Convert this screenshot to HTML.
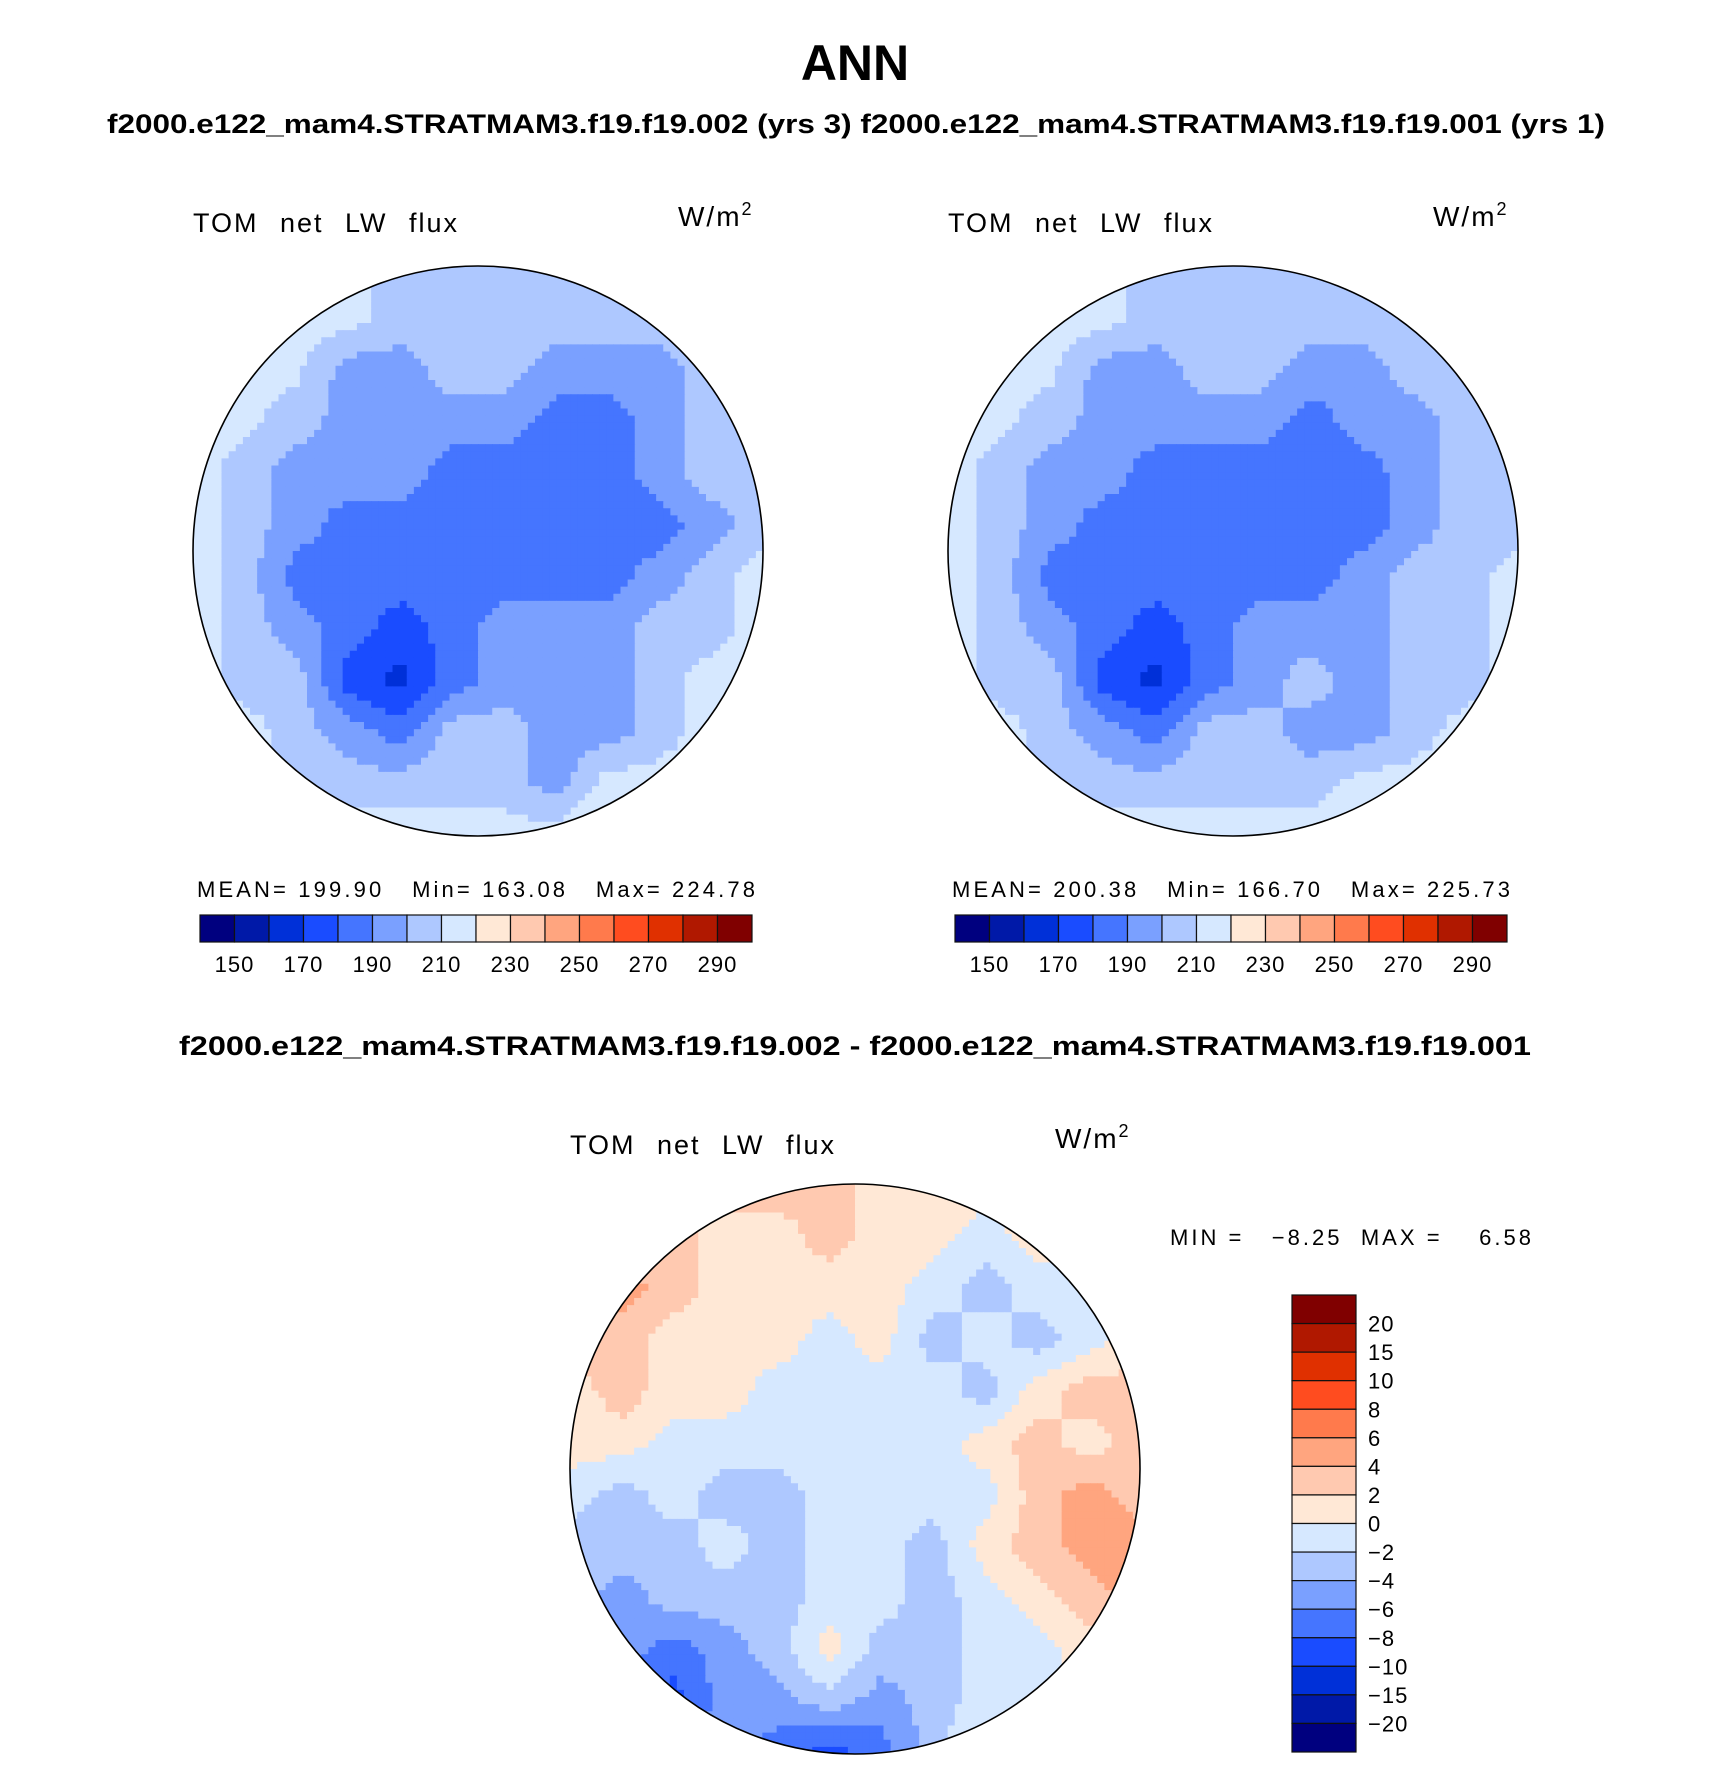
<!DOCTYPE html>
<html><head><meta charset="utf-8">
<style>
body{margin:0;background:#fff;}
svg text{font-family:"Liberation Sans",sans-serif;}
</style></head>
<body>
<svg id="fig" width="1710" height="1764" viewBox="0 0 1710 1764" xmlns="http://www.w3.org/2000/svg">
<text x="855" y="80" text-anchor="middle" font-size="50" font-weight="bold">ANN</text>
<text x="107" y="133" font-size="26.5" font-weight="bold" textLength="1498" lengthAdjust="spacingAndGlyphs">f2000.e122_mam4.STRATMAM3.f19.f19.002 (yrs 3)  f2000.e122_mam4.STRATMAM3.f19.f19.001 (yrs 1)</text>
<text x="855" y="1055" text-anchor="middle" font-size="26.5" font-weight="bold" textLength="1352" lengthAdjust="spacingAndGlyphs">f2000.e122_mam4.STRATMAM3.f19.f19.002 - f2000.e122_mam4.STRATMAM3.f19.f19.001</text>
<g id="maps"></g>
</svg>
<script>
const colors=["#00007f","#0019a8","#0030d8","#1a4cff","#4575ff","#7aa0ff","#aec8ff","#d6e8ff","#ffe8d6","#ffc9b0","#ffa57f","#ff7a4c","#ff4c1f","#e03000","#b01800","#800000"];
const levelsAbs=[150,160,170,180,190,200,210,220,230,240,250,260,270,280,290];
const tickLabelsAbs=["150","170","190","210","230","250","270","290"];
const levelsDiff=[-20,-15,-10,-8,-6,-4,-2,0,2,4,6,8,10,15,20];
const tickLabelsDiff=["20","15","10","8","6","4","2","0","\u22122","\u22124","\u22126","\u22128","\u221210","\u221215","\u221220"];
const grid1=[
[215,215,215,215,205,205,205,205,215,215,215,215],
[215,215,215,215,205,205,205,205,205,205,215,215],
[215,215,212,195,195,205,205,195,195,195,205,215],
[215,212,205,195,195,195,195,185,185,195,205,215],
[215,205,195,195,195,185,185,185,185,195,205,205],
[215,205,195,185,185,185,185,185,185,185,195,205],
[215,205,185,185,185,185,185,185,185,195,205,215],
[215,205,195,185,175,185,195,195,195,205,205,215],
[215,205,205,175,166,185,195,195,195,205,215,215],
[215,215,205,195,185,205,205,195,195,205,215,215],
[215,215,205,205,205,205,205,195,215,215,215,215],
[215,215,215,215,215,215,215,215,222,222,215,215]];
const grid2=[
[215,215,215,215,205,205,205,205,215,215,215,215],
[215,215,215,215,205,205,205,205,205,205,215,215],
[215,215,212,195,195,205,205,195,195,205,205,215],
[215,212,205,195,195,195,195,185,195,195,205,215],
[215,205,195,195,185,185,185,185,185,195,205,205],
[215,205,195,185,185,185,185,185,185,195,205,205],
[215,205,185,185,185,185,185,185,195,205,205,215],
[215,205,195,185,175,185,195,195,195,205,205,215],
[215,205,205,175,167,185,195,205,195,205,205,215],
[215,215,205,195,185,205,205,195,195,205,215,215],
[215,215,205,205,205,205,205,205,215,215,215,215],
[215,215,215,215,215,215,215,215,222,215,215,215]];
const gridDiff=[
[1,1,1,3,3,3,1,1,1,1,1,1],
[1,1,3,1,1,3,1,1,-1,1,1,1],
[3,5,3,1,1,1,1,-1,-3,-1,-1,1],
[3,3,1,1,1,-1,1,-3,-1,-3,-1,1],
[1,3,1,1,-1,-1,-1,-1,-3,1,3,3],
[1,1,-1,-1,-1,-1,-1,-1,1,3,1,3],
[-1,-3,-1,-3,-3,-1,-1,-1,-1,3,5,3],
[-3,-3,-3,-1,-3,-1,-1,-3,1,3,5,5],
[-3,-5,-3,-3,-3,-1,-1,-3,-1,1,3,5],
[-1,-5,-7,-5,-3,1,-3,-3,-1,-1,1,1],
[-3,-5,-9,-5,-5,-3,-5,-3,-1,-1,1,1],
[-3,-3,-5,-5,-7,-9,-7,-3,1,1,1,1]];
const statsLeft="MEAN= 199.90   Min= 163.08   Max= 224.78";
const statsRight="MEAN= 200.38   Min= 166.70   Max= 225.73";
const statsDiff="MIN =   \u22128.25  MAX =    6.58";

const NS="http://www.w3.org/2000/svg";
const root=document.getElementById('maps');
function mk(tag,attrs,parent){const e=document.createElementNS(NS,tag);for(const k in attrs)e.setAttribute(k,attrs[k]);(parent||root).appendChild(e);return e;}
function colorFor(v,levels){let i=0;while(i<levels.length&&v>=levels[i])i++;return colors[i];}
function sample(grid,u,v){const R=grid.length,C=grid[0].length;const x=u*(C-1),y=v*(R-1);const i0=Math.min(Math.floor(y),R-2),j0=Math.min(Math.floor(x),C-2);const fy=y-i0,fx=x-j0;
 return grid[i0][j0]*(1-fx)*(1-fy)+grid[i0][j0+1]*fx*(1-fy)+grid[i0+1][j0]*(1-fx)*fy+grid[i0+1][j0+1]*fx*fy;}
function drawMap(id,cx,cy,r,grid,levels){
 const g=mk('g',{});
 
 
 const cp=mk('clipPath',{id:id+'-clip'},g);mk('circle',{cx:cx,cy:cy,r:r},cp);
 const cells=mk('g',{'clip-path':'url(#'+id+'-clip)'},g);
 const N=80,s=2*r/N;
 for(let i=0;i<N;i++)for(let j=0;j<N;j++){
  const v=sample(grid,(j+0.5)/N,(i+0.5)/N);
  mk('rect',{x:(cx-r+j*s).toFixed(2),y:(cy-r+i*s).toFixed(2),width:(s+0.6).toFixed(2),height:(s+0.6).toFixed(2),fill:colorFor(v,levels)},cells);
 }
 const c=mk('circle',{cx:cx,cy:cy,r:r,fill:'none',stroke:'#000','stroke-width':1.6},g);
 
 
}
function label(x,y,txt,size,name,anchor,ls,tl){const a={x:x,y:y,'font-size':size,'text-anchor':anchor||'start','letter-spacing':ls||0};
 if(tl){a.textLength=tl;a.lengthAdjust='spacing';}
 const t=mk('text',a);t.textContent=txt;t.setAttribute('xml:space','preserve');t.style.whiteSpace='pre';
 
 return t;}
function varLabel(x,y,name){const t=mk('text',{x:x,y:y,'font-size':27,'letter-spacing':2,'word-spacing':12});t.textContent='TOM net LW flux';
 
 }
function unit(x,y,name){const t=mk('text',{x:x,y:y,'font-size':28,'letter-spacing':2});t.innerHTML='W/m<tspan dy="-11" font-size="18">2</tspan>';
 
 }
function hbar(x0,y0,w,h,name,stats){
 const bw=w/colors.length;
 colors.forEach((c,k)=>{const b=mk('rect',{x:x0+k*bw,y:y0,width:bw,height:h,fill:c,stroke:'#111','stroke-width':1.2});
  
  });
 tickLabelsAbs.forEach((t,k)=>label(x0+(2*k+1)*bw,y0+h+30,t,22,name+'-tick','middle',1));
 label(x0-3,y0-18,stats,22,name+'-stats','start',0,w+6);
}
drawMap('left',478,551,285,grid1,levelsAbs);
drawMap('right',1233,551,285,grid2,levelsAbs);
drawMap('diff',855,1469,285,gridDiff,levelsDiff);
varLabel(193,232,'left-variable-label');
unit(678,226,'left-units');
varLabel(948,232,'right-variable-label');
unit(1433,226,'right-units');
varLabel(570,1154,'diff-variable-label');
unit(1055,1148,'diff-units');
hbar(200,915,552,27,'left-colorbar',statsLeft);
hbar(955,915,552,27,'right-colorbar',statsRight);
(function(){const x0=1292,y0=1295,w=64,H=457,bh=H/colors.length;
 for(let k=0;k<colors.length;k++){const b=mk('rect',{x:x0,y:y0+k*bh,width:w,height:bh,fill:colors[colors.length-1-k],stroke:'#111','stroke-width':1.2});
  
  }
 tickLabelsDiff.forEach((t,j)=>label(x0+w+12,y0+(j+1)*bh+8,t,22,'diff-colorbar-tick','start',1));
 label(1170,1245,statsDiff,22,'diff-minmax','start',0,361);
})();
</script>
</body></html>
